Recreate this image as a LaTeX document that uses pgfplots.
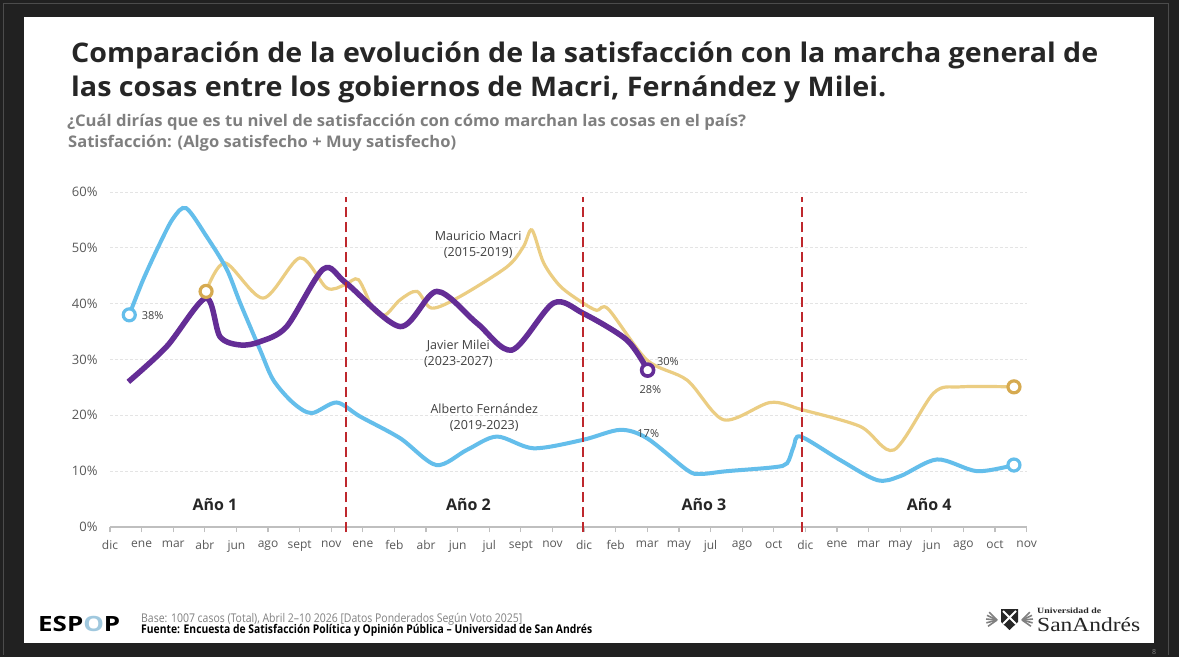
\documentclass[border=0pt]{standalone}
\usepackage{pgfplots}
\pgfplotsset{compat=1.18}
\usepackage{fontspec}
\usepackage{graphicx}
\setmainfont{Open Sans}
\newfontfamily\serifsa{Liberation Serif}
\definecolor{framebg}{RGB}{33,33,33}
\definecolor{titlecol}{RGB}{38,38,38}
\definecolor{subcol}{RGB}{127,127,127}
\definecolor{labgray}{RGB}{89,89,89}
\definecolor{axisgray}{RGB}{191,191,191}
\definecolor{gridgray}{RGB}{228,228,228}
\definecolor{fern}{RGB}{100,190,235}
\definecolor{macri}{RGB}{235,205,130}
\definecolor{macrimk}{RGB}{214,170,80}
\definecolor{milei}{RGB}{100,45,150}
\definecolor{redd}{RGB}{190,40,45}
\definecolor{annot}{RGB}{64,64,64}
\definecolor{espopo}{RGB}{160,200,222}
\newcommand\fs[1]{\fontsize{#1}{#1}\selectfont}
\begin{document}
\begin{tikzpicture}[x=1pt,y=1pt]
\useasboundingbox (0,0) rectangle (1179,657);
\fill[framebg] (0,0) rectangle (1179,657);
\draw[gray!60!black, line width=0.8pt] (3,2) -- (3,654) -- (1168,654) -- (1168,2);
\fill[white] (24,14) rectangle (1154,640);
% titles
\node[anchor=base west, inner sep=0, text=titlecol] at (71,594) {\resizebox{1027pt}{\height}{\fs{27}\bfseries Comparación de la evolución de la satisfacción con la marcha general de}};
\node[anchor=base west, inner sep=0, text=titlecol] at (71,560) {\resizebox{815pt}{\height}{\fs{27}\bfseries las cosas entre los gobiernos de Macri, Fernández y Milei.}};
\node[anchor=base west, inner sep=0, text=subcol] at (67,530) {\resizebox{679pt}{\height}{\fs{16}\bfseries ¿Cuál dirías que es tu nivel de satisfacción con cómo marchan las cosas en el país?}};
\node[anchor=base west, inner sep=0, text=subcol] at (68,509) {\resizebox{388pt}{\height}{\fs{16}\bfseries Satisfacción: (Algo satisfecho + Muy satisfecho)}};
% footer
\node[anchor=base west, inner sep=0, text=black] at (38,25.3) {\resizebox{82pt}{\height}{\fs{21}\bfseries ESP{\color{espopo}O}P}};
\node[anchor=base west, inner sep=0, text=gray] at (141,35) {\resizebox{381pt}{\height}{\fs{12}Base: 1007 casos (Total), Abril 2--10 2026 [Datos Ponderados Según Voto 2025]}};
\node[anchor=base west, inner sep=0, text=black] at (141,24) {\resizebox{451pt}{\height}{\fs{12}\bfseries Fuente: Encuesta de Satisfacción Política y Opinión Pública -- Universidad de San Andrés}};
\node[anchor=base west, inner sep=0, text=black!85] at (1037,25.3) {\resizebox{103pt}{\height}{\serifsa\fs{20}SanAndrés}};
\node[anchor=base west, inner sep=0, text=black!85] at (1037,44) {\resizebox{64pt}{\height}{\serifsa\fs{8}\bfseries Universidad de}};
% crest
\fill[black!85] (1001,48) -- (1018,48) -- (1018,35) -- (1009.5,27) -- (1001,35) -- cycle;
\draw[white, line width=1.8pt] (1003,46) -- (1016,33) (1016,46) -- (1003,33);
\foreach \a in {-45,-25,-5,15,35}{
 \draw[black!50, line width=1.6pt] (997,37) -- ++(180+\a:11);
 \draw[black!50, line width=1.6pt] (1022,37) -- ++(-\a:11);
}
\node[text=gray, inner sep=0] at (1154,5) {\fs{7}8};
\begin{axis}[
  at={(110pt,130pt)}, anchor=south west,
  scale only axis, width=916.6pt, height=335pt,
  xmin=0, xmax=29, ymin=0, ymax=60,
  clip=false,
  axis x line*=bottom, axis y line*=left,
  y axis line style={draw=none},
  x axis line style={draw=axisgray, line width=1.3pt, -},
  xtick={0,...,29},
  xticklabels={dic,ene,mar,abr,jun,ago,sept,nov,ene,feb,abr,jun,jul,sept,nov,dic,feb,mar,may,jul,ago,oct,dic,ene,mar,may,jun,ago,oct,nov},
  ytick={0,10,20,30,40,50,60},
  yticklabels={0\%,10\%,20\%,30\%,40\%,50\%,60\%},
  tick align=outside, major tick length=5pt,
  xtick style={draw=axisgray, line width=1.2pt},
  ytick style={draw=none},
  x tick label style={font=\fs{12}, text=labgray, yshift=-5pt},
  y tick label style={font=\fs{13}, text=labgray, xshift=-4pt},
  ymajorgrids,
  grid style={draw=gridgray, dash pattern=on 3pt off 2pt, line width=0.9pt},
]
% Macri
\addplot[macri, line width=3.2pt, smooth, tension=0.5] coordinates {
(3.04,42.2) (3.64,47.3) (4.85,41.0) (6.01,48.2) (6.86,42.8) (7.44,43.4) (7.86,44.3)
(8.34,38.9) (8.71,38.0) (9.18,40.7) (9.71,42.2) (10.18,39.2) (11.08,41.3) (12.56,46.6)
(13.08,50.2) (13.35,53.2) (13.72,47.3) (14.25,43.1) (14.97,40.1) (15.4,38.8) (15.77,39.0)
(16.99,29.9) (18.26,26.3) (19.42,19.2) (20.89,22.3) (21.9,21.0) (23.74,18.0) (24.8,13.8)
(26.06,24.0) (26.9,25.1) (28.6,25.1)};
% Fernandez
\addplot[fern, line width=4pt, smooth, tension=0.5] coordinates {
(0.61,38.0) (1.05,44.3) (1.58,50.8) (2.0,55.3) (2.41,57.1) (3.06,52.0) (3.69,46.2)
(4.12,40.1) (4.75,31.7) (5.17,26.3) (5.80,22.2) (6.38,20.4) (7.17,22.3) (7.91,19.8)
(9.18,15.9) (10.32,11.1) (11.29,13.8) (12.24,16.2) (13.4,14.1) (14.96,15.6) (16.14,17.4)
(16.99,15.9) (18.26,10.2) (18.68,9.5) (19.52,10.0) (21.0,10.7) (21.42,11.4) (21.63,14.4)
(21.85,16.2) (23.1,12.0) (24.27,8.4) (25.0,9.1) (26.17,12.1) (27.43,10.0) (28.6,11.1)};
% Milei
\addplot[milei, line width=5.5pt, smooth, tension=0.5] coordinates {
(0.58,26.0) (1.79,32.3) (3.03,41.0) (3.48,34.1) (4.12,32.6) (4.75,33.2) (5.59,35.9)
(6.75,46.2) (7.47,43.7) (9.18,35.9) (10.34,42.2) (11.61,36.5) (12.72,31.7) (14.03,40.1)
(14.96,38.3) (16.35,33.5) (17.01,28.1)};
% markers
\addplot[only marks, mark=*, mark size=6pt, mark options={draw=macrimk, fill=white, line width=3.2pt}] coordinates {(3.04,42.2) (28.6,25.1)};
\addplot[only marks, mark=*, mark size=6pt, mark options={draw=fern, fill=white, line width=3.2pt}] coordinates {(0.61,38.0) (28.6,11.1)};
\addplot[only marks, mark=*, mark size=6pt, mark options={draw=milei, fill=white, line width=3.6pt}] coordinates {(17.01,28.1)};
% dashed separators
\draw[redd, line width=2pt, dash pattern=on 10pt off 5pt] (axis cs:7.47,-0.9) -- (axis cs:7.47,59.1);
\draw[redd, line width=2pt, dash pattern=on 10pt off 5pt] (axis cs:14.97,-0.9) -- (axis cs:14.97,59.1);
\draw[redd, line width=2pt, dash pattern=on 10pt off 5pt] (axis cs:21.9,-0.9) -- (axis cs:21.9,59.1);
% year labels
\node[text=titlecol, font=\fs{16}\bfseries] at (axis cs:3.32,4.07) {Año 1};
\node[text=titlecol, font=\fs{16}\bfseries] at (axis cs:11.34,4.07) {Año 2};
\node[text=titlecol, font=\fs{16}\bfseries] at (axis cs:18.79,4.07) {Año 3};
\node[text=titlecol, font=\fs{16}\bfseries] at (axis cs:25.92,4.07) {Año 4};
% series labels
\node[text=annot, font=\fs{12.5}, align=center] at (axis cs:11.65,50.5) {Mauricio Macri\\[3pt](2015-2019)};
\node[text=annot, font=\fs{12.5}, align=center] at (axis cs:11.02,31.0) {Javier Milei\\[3pt](2023-2027)};
\node[text=annot, font=\fs{12.5}, align=center] at (axis cs:11.84,19.6) {Alberto Fernández\\[3pt](2019-2023)};
% value labels
\node[text=annot, font=\fs{11}, anchor=west, inner sep=0] at (axis cs:1.0,37.8) {38\%};
\node[text=annot, font=\fs{11}, anchor=west, inner sep=0] at (axis cs:17.3,29.7) {30\%};
\node[text=annot, font=\fs{11}, inner sep=0] at (axis cs:17.1,24.6) {28\%};
\node[text=annot, font=\fs{11}, inner sep=0] at (axis cs:17.03,16.8) {17\%};
\end{axis}
\end{tikzpicture}
\end{document}
